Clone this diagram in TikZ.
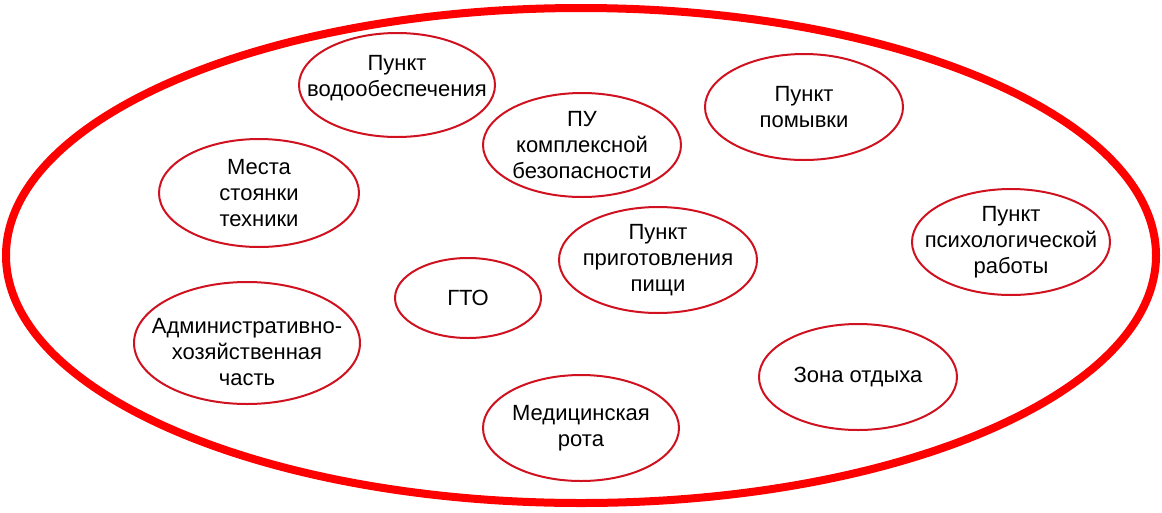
\documentclass[tikz,border=0pt]{standalone}
\usepackage{fontspec}
\setmainfont{Liberation Sans}
\usetikzlibrary{shapes.geometric}
\definecolor{zonered}{RGB}{208,18,32}
\definecolor{bigred}{RGB}{255,0,0}
\begin{document}
\begin{tikzpicture}[x=1pt,y=-1pt,
  zone/.style={draw=zonered, line width=2pt, ellipse, inner sep=0pt, fill=none},
  txt/.style={align=center, inner sep=0pt, font=\fontsize{22}{26}\selectfont, text=black}]
\useasboundingbox (0,0) rectangle (1162,512);
\fill[white] (0,0) rectangle (1162,512);
\draw[bigred, line width=8pt] (581,255.5) ellipse [x radius=575, y radius=247.5];

\node[zone, minimum width=196pt, minimum height=104pt] (vodo) at (397,85) {};
\node[txt] (vodoT) at (397,78) {Пункт\\водообеспечения};

\node[zone, minimum width=198pt, minimum height=104pt] (pu) at (582,145) {};
\node[txt] (puT) at (pu) {ПУ\\комплексной\\безопасности};

\node[zone, minimum width=198pt, minimum height=106pt] (pom) at (804,107) {};
\node[txt] (pomT) at (pom) {Пункт\\помывки};

\node[zone, minimum width=200pt, minimum height=108pt] (mesta) at (259,193) {};
\node[txt] (mestaT) at (mesta) {Места\\стоянки\\техники};

\node[zone, minimum width=198pt, minimum height=106pt] (psy) at (1011,242) {};
\node[txt] (psyT) at (psy) {Пункт\\психологической\\работы};

\node[zone, minimum width=198pt, minimum height=106pt] (food) at (658,260) {};
\node[txt] (foodT) at (food) {Пункт\\приготовления\\пищи};

\node[zone, minimum width=146pt, minimum height=80pt] (gto) at (468,298) {};
\node[txt] (gtoT) at (gto) {ГТО};

\node[zone, minimum width=226pt, minimum height=122pt] (adm) at (247,343) {};
\node[txt] (admT) at (247,352) {Административно-\\хозяйственная\\часть};

\node[zone, minimum width=198pt, minimum height=106pt] (rest) at (858,377) {};
\node[txt] (restT) at (rest) {Зона отдыха};

\node[zone, minimum width=196pt, minimum height=106pt] (med) at (581,428) {};
\node[txt] (medT) at (med) {Медицинская\\рота};
\end{tikzpicture}
\end{document}
